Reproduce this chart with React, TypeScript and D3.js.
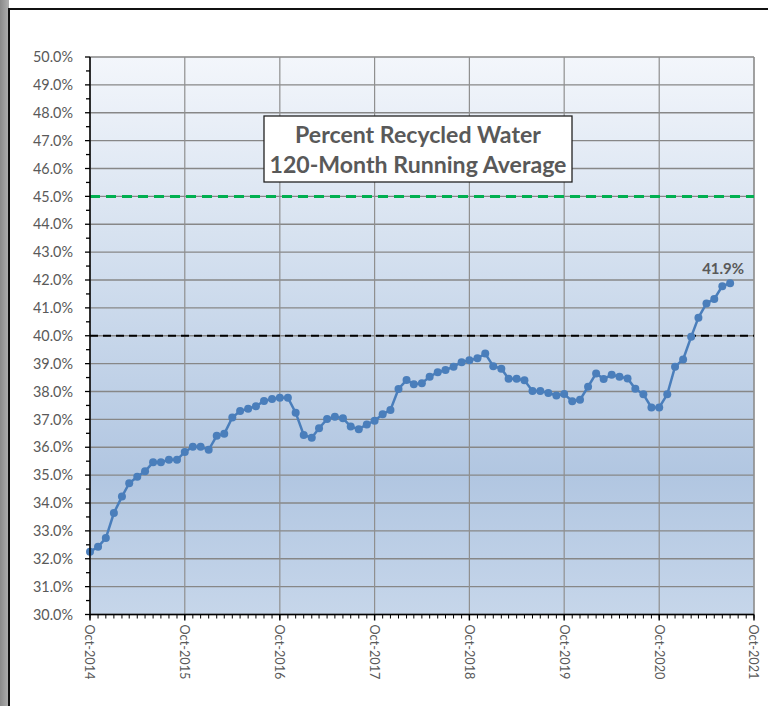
import React, { useLayoutEffect, useRef, useState } from "react";
import * as d3 from "d3";

const startMonth = "2014-10-01";
const values: number[] = [
  32.25, 32.43, 32.74, 33.64, 34.23, 34.71, 34.94, 35.14, 35.46, 35.46, 35.55, 35.55,
  35.83, 36.02, 36.02, 35.91, 36.41, 36.48, 37.07, 37.30, 37.38, 37.47, 37.66, 37.73,
  37.78, 37.78, 37.24, 36.44, 36.34, 36.68, 37.01, 37.09, 37.04, 36.74, 36.65, 36.82,
  36.95, 37.18, 37.34, 38.09, 38.41, 38.26, 38.30, 38.53, 38.69, 38.77, 38.89, 39.05,
  39.12, 39.19, 39.36, 38.91, 38.82, 38.46, 38.46, 38.40, 38.02, 38.02, 37.95, 37.86,
  37.91, 37.65, 37.70, 38.17, 38.65, 38.45, 38.60, 38.53, 38.47, 38.10, 37.90, 37.43,
  37.43, 37.90, 38.89, 39.15, 39.96, 40.65, 41.16, 41.32, 41.78, 41.88,
];
const xTickLabels = ["Oct-2014", "Oct-2015", "Oct-2016", "Oct-2017", "Oct-2018", "Oct-2019", "Oct-2020", "Oct-2021"];
const yTicks = [30, 31, 32, 33, 34, 35, 36, 37, 38, 39, 40, 41, 42, 43, 44, 45, 46, 47, 48, 49, 50];
const targetLine = 45;
const refLine = 40;
const titleLines = ["Percent Recycled Water", "120-Month Running Average"];
const lastLabel = "41.9%";

const W = 768, H = 706;
const L = 90, R = 754, T = 57, B = 614.5;
const font = "Lato, 'Open Sans', sans-serif";

export default function App() {
  const svgRef = useRef<SVGSVGElement>(null);
  const [fs, setFs] = useState({ y: 14, x: 14, t: 21, l: 13.5 });

  useLayoutEffect(() => {
    const svg = svgRef.current;
    if (!svg) return;
    const measure = (s: string, weight: number) => {
      const t = document.createElementNS("http://www.w3.org/2000/svg", "text");
      t.setAttribute("font-family", font);
      t.setAttribute("font-size", "100");
      t.setAttribute("font-weight", String(weight));
      t.textContent = s;
      svg.appendChild(t);
      const w = t.getComputedTextLength();
      svg.removeChild(t);
      return w;
    };
    const yw = measure("50.0%", 400);
    const xw = measure("Oct-2014", 400);
    const tw = measure(titleLines[1], 700);
    const lw = measure(lastLabel, 700);
    if (yw > 0 && xw > 0 && tw > 0 && lw > 0) {
      setFs({ y: (100 * 40) / yw, x: (100 * 55) / xw, t: (100 * 297) / tw, l: (100 * 42) / lw });
    }
  }, []);

  const start = new Date(startMonth + "T00:00:00");
  const dates = values.map((_, i) => d3.timeMonth.offset(start, i));
  const tickDates = xTickLabels.map((_, i) => d3.timeYear.offset(start, i));
  const endDate = tickDates[tickDates.length - 1];
  const x = d3.scaleTime().domain([start, endDate]).range([L, R]);
  const y = d3.scaleLinear().domain([30, 50]).range([B, T]);
  const minorX = d3.timeMonth.range(start, d3.timeMonth.offset(endDate, 1));
  const minorY = d3.range(30.5, 50, 1);
  const line = d3.line<number>().x((_, i) => x(dates[i])).y((v) => y(v));
  const gray = "#595959";
  const last = values.length - 1;

  return (
    <div style={{ position: "absolute", left: 0, top: 0 }}>
      <svg ref={svgRef} width={W} height={H} style={{ display: "block" }}>
        <defs>
          <linearGradient id="shade" x1="0" x2="1" y1="0" y2="0">
            <stop offset="0" stopColor="#8a8a8a" />
            <stop offset="1" stopColor="#b0b0b0" />
          </linearGradient>
          <linearGradient id="bg" x1="0" x2="0" y1="0" y2="1">
            <stop offset="0" stopColor="#f3f6fb" />
            <stop offset="0.35" stopColor="#d4e0ef" />
            <stop offset="0.75" stopColor="#b1c6e1" />
            <stop offset="1" stopColor="#c6d6ea" />
          </linearGradient>
        </defs>
        <rect x={0} y={0} width={W} height={H} fill="#fff" />
        <rect x={0} y={0} width={9} height={H} fill="url(#shade)" />
        <line x1={9} x2={W} y1={9} y2={9} stroke="#111" strokeWidth={2} />
        <line x1={9} x2={9} y1={8} y2={H} stroke="#111" strokeWidth={2} />

        <rect x={L} y={T} width={R - L} height={B - T} fill="url(#bg)" />
        {yTicks.map((t) => (
          <line key={"gy" + t} x1={L} x2={R} y1={y(t)} y2={y(t)} stroke="#878787" strokeWidth={1.3} />
        ))}
        {tickDates.map((d, i) => (
          <line key={"gx" + i} x1={x(d)} x2={x(d)} y1={T} y2={B} stroke="#8f8f8f" strokeWidth={1.2} />
        ))}
        <line x1={R} x2={R} y1={T} y2={B} stroke="#8f8f8f" strokeWidth={1.2} />

        <line x1={L} x2={R} y1={y(targetLine)} y2={y(targetLine)} stroke="#00b050" strokeWidth={3} strokeDasharray="10 6" />
        <line x1={L} x2={R} y1={y(refLine)} y2={y(refLine)} stroke="#000" strokeWidth={2} strokeDasharray="8 5" />

        <g>
          <rect x={264} y={116} width={308} height={66} fill="#fff" stroke="#222" strokeWidth={1.3} />
          <text x={418} y={143} textAnchor="middle" fontFamily={font} fontWeight={700} fontSize={fs.t} fill={gray}>
            {titleLines[0]}
          </text>
          <text x={418} y={173} textAnchor="middle" fontFamily={font} fontWeight={700} fontSize={fs.t} fill={gray}>
            {titleLines[1]}
          </text>
        </g>

        <path d={line(values) || ""} fill="none" stroke="#4a7ebb" strokeWidth={2.5} />
        {values.map((v, i) => (
          <circle key={"p" + i} cx={x(dates[i])} cy={y(v)} r={4} fill="#4a7ebb" />
        ))}
        <text x={x(dates[last]) - 7} y={y(values[last]) - 9} textAnchor="middle" fontFamily={font} fontWeight={700}
          fontSize={fs.l} fill={gray}>{lastLabel}</text>

        {/* Y axis */}
        <line x1={L} x2={L} y1={T} y2={B + 0.5} stroke="#000" strokeWidth={1.5} />
        {yTicks.map((t) => (
          <g key={"yt" + t}>
            <line x1={L - 5} x2={L} y1={y(t)} y2={y(t)} stroke="#000" strokeWidth={1.3} />
            <text x={73} y={y(t)} dy="0.36em" textAnchor="end" fontFamily={font} fontSize={fs.y} fill={gray}>
              {t.toFixed(1) + "%"}
            </text>
          </g>
        ))}
        {minorY.map((t) => (
          <line key={"my" + t} x1={L - 4} x2={L} y1={y(t)} y2={y(t)} stroke="#000" strokeWidth={1.3} />
        ))}

        {/* X axis */}
        <line x1={L} x2={R} y1={B} y2={B} stroke="#000" strokeWidth={1.5} />
        {minorX.map((d, i) => (
          <line key={"mx" + i} x1={x(d)} x2={x(d)} y1={B} y2={B + 4} stroke="#000" strokeWidth={1} />
        ))}
        {tickDates.map((d, i) => (
          <g key={"xt" + i}>
            <line x1={x(d)} x2={x(d)} y1={B} y2={B + 6} stroke="#000" strokeWidth={1.4} />
            <text transform={`translate(${x(d)},${B + 10}) rotate(90)`} dy="0.36em" textAnchor="start"
              fontFamily={font} fontSize={fs.x} fill={gray}>{xTickLabels[i]}</text>
          </g>
        ))}
      </svg>
    </div>
  );
}
